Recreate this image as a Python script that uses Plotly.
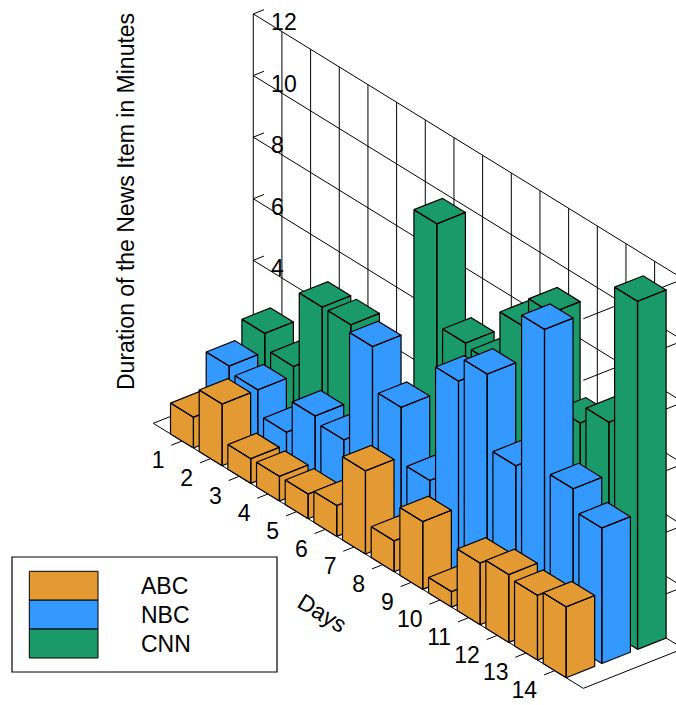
import plotly.graph_objects as go

days = list(range(1, 15))
series_names = ["ABC", "NBC", "CNN"]
series_colors = ["#E39A32", "#3399FF", "#1A9A68"]
abc = [1.0, 2.0, 0.8, 0.8, 0.8, 1.0, 2.7, 1.0, 2.2, 0.5, 2.0, 2.2, 2.1, 2.3]
nbc = [2.2, 2.0, 1.2, 2.3, 2.1, 5.7, 4.3, 2.5, 6.3, 7.1, 4.7, 9.7, 5.1, 4.4]
cnn = [2.8, 2.3, 4.8, 4.8, 2.0, 2.0, 9.8, 6.5, 6.4, 8.2, 9.2, 6.2, 6.8, 11.3]
z_ticks = [0, 2, 4, 6, 8, 10, 12]
series_values = [abc, nbc, cnn]

FONT = "Liberation Sans, Arial, sans-serif"
FS = 23
W, H = 676, 705
OX, OY = 153.3, 423.3
DX, DY = 28.67, 17.67
SX, SY = 35.7, -14.2
ZS = 30.8
DMAX, SMAX = 15, 2.8
HALF = 0.4
BAR_S = 0.8


def P(d, s, z=0.0):
    return OX + DX * d + SX * s, OY + DY * d + SY * s - ZS * z


def path(segments):
    xs, ys = [], []
    for seg in segments:
        for pt in seg:
            x, y = P(*pt)
            xs.append(x)
            ys.append(y)
        xs.append(None)
        ys.append(None)
    return xs, ys


fig = go.Figure()


def add_lines(segments, width=1.0):
    xs, ys = path(segments)
    fig.add_trace(go.Scatter(x=xs, y=ys, mode="lines", line=dict(color="black", width=width),
                             hoverinfo="skip", showlegend=False))


# walls, floor outline
grid = []
for z in z_ticks:
    grid.append([(0, SMAX, z), (DMAX, SMAX, z)])
    grid.append([(DMAX, 0, z), (DMAX, SMAX, z)])
    grid.append([(0, SMAX, z), (0, SMAX + 0.3, z)])
for d in range(0, DMAX + 1):
    grid.append([(d, SMAX, 0), (d, SMAX, z_ticks[-1])])
grid.append([(0, 0, 0), (DMAX, 0, 0)])
grid.append([(0, 0, 0), (0, SMAX, 0)])
for d in days:
    grid.append([(d, 0, 0), (d, -0.3, 0)])
add_lines(grid)

# z tick labels (behind the bars)
zx, zy = [], []
for z in z_ticks:
    x, y = P(0, 3.3, z - 0.5)
    zx.append(x)
    zy.append(y + 2)
fig.add_trace(go.Scatter(x=zx, y=zy, mode="text", text=[str(z) for z in z_ticks],
                         textposition="middle right", textfont=dict(family=FONT, size=FS, color="black"),
                         hoverinfo="skip", showlegend=False))

# day tick labels, right-aligned
dx, dy = [], []
for d in days:
    x, y = P(d, 0, 0)
    dx.append(x - 17.5)
    dy.append(y + 21.5)
fig.add_trace(go.Scatter(x=dx, y=dy, mode="text", text=[str(d) for d in days],
                         textposition="middle left", textfont=dict(family=FONT, size=FS, color="black"),
                         hoverinfo="skip", showlegend=False))

# bars: back to front
for si in range(2, -1, -1):
    s0, s1 = si, si + BAR_S
    for di, d in enumerate(days):
        v = series_values[si][di]
        d0, d1 = d - HALF, d + HALF
        faces = [
            [(d0, s0, 0), (d1, s0, 0), (d1, s0, v), (d0, s0, v), (d0, s0, 0)],
            [(d1, s0, 0), (d1, s1, 0), (d1, s1, v), (d1, s0, v), (d1, s0, 0)],
            [(d0, s0, v), (d1, s0, v), (d1, s1, v), (d0, s1, v), (d0, s0, v)],
        ]
        xs, ys = path(faces)
        fig.add_trace(go.Scatter(x=xs, y=ys, mode="lines", fill="toself", fillcolor=series_colors[si],
                                 line=dict(color="black", width=1.2), name=series_names[si],
                                 hoverinfo="skip", showlegend=False))

shapes = [dict(type="rect", xref="x", yref="y", x0=12, x1=277, y0=557, y1=672,
               line=dict(color="black", width=1.2), fillcolor="white")]
annotations = []
for i, name in enumerate(series_names):
    y0 = 571.3 + i * 28.9
    shapes.append(dict(type="rect", xref="x", yref="y", x0=29.3, x1=98, y0=y0, y1=y0 + 28.9,
                       line=dict(color="black", width=1), fillcolor=series_colors[i]))
    annotations.append(dict(x=138.5, y=y0 + 14.6, xref="x", yref="y", text=name, showarrow=False,
                            xanchor="left", yanchor="middle",
                            font=dict(family=FONT, size=FS, color="black")))

annotations.append(dict(x=126, y=202, xref="x", yref="y", text="Duration of the News Item in Minutes",
                        textangle=-90, showarrow=False, xanchor="center", yanchor="middle",
                        font=dict(family=FONT, size=FS, color="black")))
annotations.append(dict(x=322, y=613, xref="x", yref="y", text="Days", textangle=31.6, showarrow=False,
                        xanchor="center", yanchor="middle", font=dict(family=FONT, size=FS, color="black")))

fig.update_layout(
    width=W, height=H, margin=dict(l=0, r=0, t=0, b=0), autosize=False,
    paper_bgcolor="white", plot_bgcolor="white", showlegend=False, hovermode=False,
    xaxis=dict(range=[0, W], visible=False, fixedrange=True),
    yaxis=dict(range=[H, 0], visible=False, fixedrange=True),
    shapes=shapes, annotations=annotations,
)
fig.write_html("out.html", config={"displayModeBar": False},
               post_script="document.body.style.margin='0';document.body.style.overflow='hidden';")
